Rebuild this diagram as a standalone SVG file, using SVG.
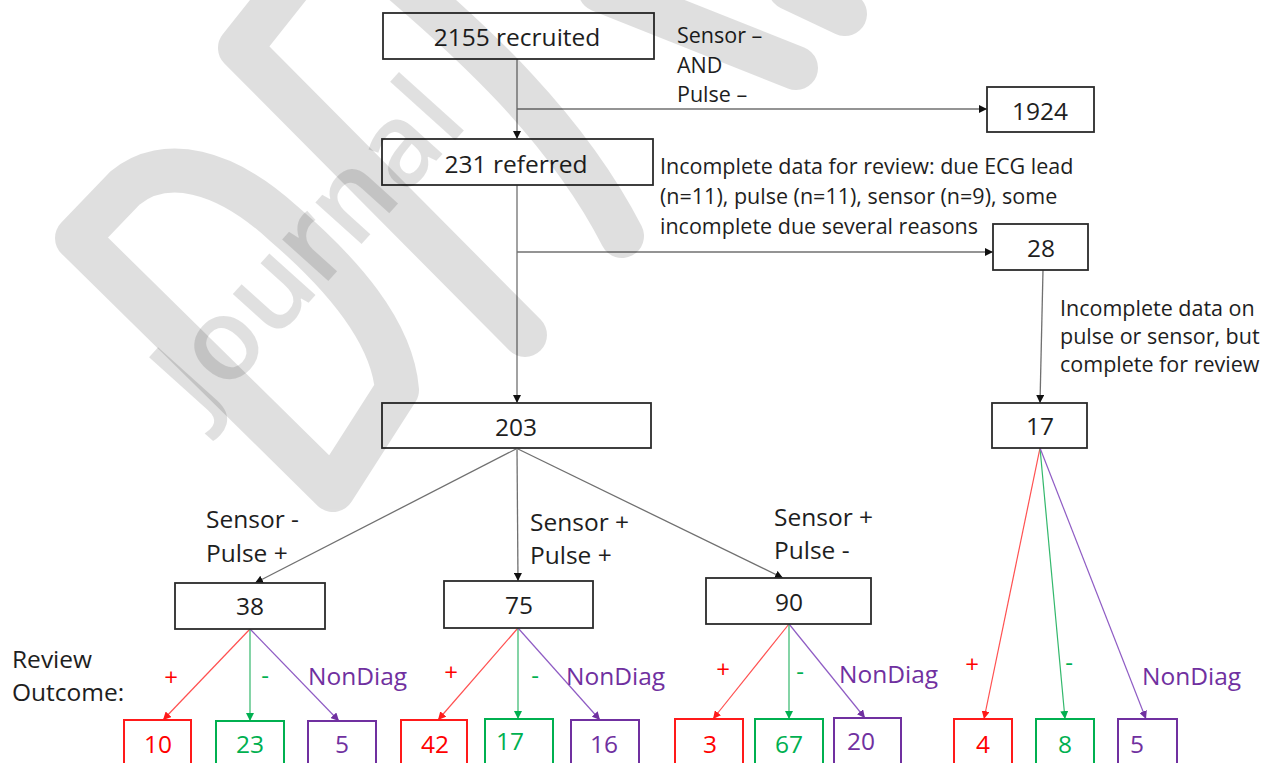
<svg xmlns="http://www.w3.org/2000/svg" width="1276" height="763" viewBox="0 0 1276 763">
<defs>
<style>
.box{fill:#fff;stroke:#2b2b2b;stroke-width:1.8}
.t{font-family:"Open Sans","Noto Sans","Liberation Sans",sans-serif;fill:#1e1e1e}
.bt{font-size:24.5px;text-anchor:middle}
.lb{font-size:21.5px}
.lg{font-size:24.5px}
.ln{fill:none;stroke:#707070;stroke-width:1.3}
.lr{fill:none;stroke:#ff5050;stroke-width:1.2}
.lgr{fill:none;stroke:#33b86c;stroke-width:1.2}
.lp{fill:none;stroke:#8f5cc4;stroke-width:1.2}
.br{fill:#fff;stroke:#ff1a1a;stroke-width:2}
.bg{fill:#fff;stroke:#00b050;stroke-width:2}
.bp{fill:#fff;stroke:#7030a0;stroke-width:2}
.red{fill:#ff0000}
.grn{fill:#00b050}
.pur{fill:#7030a0}
.sg{font-size:24px;text-anchor:middle}
</style>
<marker id="ah" viewBox="0 0 10 10" refX="10" refY="5" markerWidth="8" markerHeight="8" markerUnits="userSpaceOnUse" orient="auto"><path d="M0,0 L10,5 L0,10 z" fill="#111"/></marker>
<marker id="ahr" viewBox="0 0 10 10" refX="10" refY="5" markerWidth="8" markerHeight="8" markerUnits="userSpaceOnUse" orient="auto"><path d="M0,0 L10,5 L0,10 z" fill="#ff1a1a"/></marker>
<marker id="ahg" viewBox="0 0 10 10" refX="10" refY="5" markerWidth="8" markerHeight="8" markerUnits="userSpaceOnUse" orient="auto"><path d="M0,0 L10,5 L0,10 z" fill="#00b050"/></marker>
<marker id="ahp" viewBox="0 0 10 10" refX="10" refY="5" markerWidth="8" markerHeight="8" markerUnits="userSpaceOnUse" orient="auto"><path d="M0,0 L10,5 L0,10 z" fill="#7030a0"/></marker>
</defs>
<rect width="1276" height="763" fill="#fff"/>

<g id="connectors">
<path class="ln" d="M517,59 V139" marker-end="url(#ah)"/>
<path class="ln" d="M517,109 H987" marker-end="url(#ah)"/>
<path class="ln" d="M517,185 V403" marker-end="url(#ah)"/>
<path class="ln" d="M517,252 H993" marker-end="url(#ah)"/>
<path class="ln" d="M1043,270 L1040,403" marker-end="url(#ah)"/>
<path class="ln" d="M516,449 L255,583" marker-end="url(#ah)"/>
<path class="ln" d="M517,449 L518,581" marker-end="url(#ah)"/>
<path class="ln" d="M518,449 L783,578" marker-end="url(#ah)"/>
<path class="lr" d="M250,629 L163,720" marker-end="url(#ahr)"/>
<path class="lgr" d="M250,629 L250,721" marker-end="url(#ahg)"/>
<path class="lp" d="M250,629 L339,721" marker-end="url(#ahp)"/>
<path class="lr" d="M518,628 L438,720" marker-end="url(#ahr)"/>
<path class="lgr" d="M518,628 L518,719" marker-end="url(#ahg)"/>
<path class="lp" d="M518,628 L600,720" marker-end="url(#ahp)"/>
<path class="lr" d="M789,624 L713,719" marker-end="url(#ahr)"/>
<path class="lgr" d="M789,624 L789,719" marker-end="url(#ahg)"/>
<path class="lp" d="M789,624 L865,718" marker-end="url(#ahp)"/>
<path class="lr" d="M1040,448 L984,719" marker-end="url(#ahr)"/>
<path class="lgr" d="M1040,448 L1065,719" marker-end="url(#ahg)"/>
<path class="lp" d="M1040,448 L1146,719" marker-end="url(#ahp)"/>
</g>

<g id="labels">
<text class="t lb" x="677" y="43">Sensor –</text>
<text class="t lb" x="677" y="73">AND</text>
<text class="t lb" x="677" y="102">Pulse –</text>
<text class="t lb" x="660" y="174">Incomplete data for review: due ECG lead</text>
<text class="t lb" x="660" y="204">(n=11), pulse (n=11), sensor (n=9), some</text>
<text class="t lb" x="660" y="234">incomplete due several reasons</text>
<text class="t lb" x="1060" y="316">Incomplete data on</text>
<text class="t lb" x="1060" y="344">pulse or sensor, but</text>
<text class="t lb" x="1060" y="372">complete for review</text>
<text class="t lg" x="206" y="528">Sensor -</text>
<text class="t lg" x="206" y="562">Pulse +</text>
<text class="t lg" x="530" y="531">Sensor +</text>
<text class="t lg" x="530" y="564">Pulse +</text>
<text class="t lg" x="774" y="526">Sensor +</text>
<text class="t lg" x="774" y="559">Pulse -</text>
<text class="t lg" x="12" y="668">Review</text>
<text class="t lg" x="12" y="701">Outcome:</text>
<text class="t sg red" x="171" y="686">+</text>
<text class="t sg grn" x="265" y="684">-</text>
<text class="t lg pur" x="308" y="685">NonDiag</text>
<text class="t sg red" x="451" y="681">+</text>
<text class="t sg grn" x="535" y="684">-</text>
<text class="t lg pur" x="566" y="685">NonDiag</text>
<text class="t sg red" x="723" y="678">+</text>
<text class="t sg grn" x="800" y="680">-</text>
<text class="t lg pur" x="839" y="683">NonDiag</text>
<text class="t sg red" x="972" y="673">+</text>
<text class="t sg grn" x="1069" y="671">-</text>
<text class="t lg pur" x="1142" y="685">NonDiag</text>
</g>

<g id="n2155"><rect class="box" x="383" y="13" width="271" height="46"/><text class="t bt" x="517" y="46">2155 recruited</text></g>
<g id="n231"><rect class="box" x="382" y="139" width="271" height="46"/><text class="t bt" x="516" y="173">231 referred</text></g>
<g id="n1924"><rect class="box" x="987" y="87" width="107" height="45"/><text class="t bt" x="1040" y="120">1924</text></g>
<g id="n28"><rect class="box" x="993" y="224" width="95" height="46"/><text class="t bt" x="1041" y="257">28</text></g>
<g id="n203"><rect class="box" x="382" y="403" width="269" height="45"/><text class="t bt" x="516" y="436">203</text></g>
<g id="n17"><rect class="box" x="992" y="403" width="95" height="45"/><text class="t bt" x="1040" y="435">17</text></g>
<g id="n38"><rect class="box" x="175" y="583" width="150" height="46"/><text class="t bt" x="250" y="615">38</text></g>
<g id="n75"><rect class="box" x="444" y="581" width="149" height="47"/><text class="t bt" x="519" y="614">75</text></g>
<g id="n90"><rect class="box" x="706" y="578" width="165" height="46"/><text class="t bt" x="789" y="611">90</text></g>

<g id="o10"><rect class="br" x="124" y="720" width="67" height="60"/><text class="t bt red" x="158" y="753">10</text></g>
<g id="o23"><rect class="bg" x="216" y="721" width="68" height="60"/><text class="t bt grn" x="250" y="753">23</text></g>
<g id="o5a"><rect class="bp" x="308" y="721" width="68" height="60"/><text class="t bt pur" x="342" y="753">5</text></g>
<g id="o42"><rect class="br" x="401" y="720" width="66" height="60"/><text class="t bt red" x="435" y="753">42</text></g>
<g id="o17"><rect class="bg" x="485" y="719" width="68" height="60"/><text class="t bt grn" x="510" y="750">17</text></g>
<g id="o16"><rect class="bp" x="571" y="720" width="68" height="60"/><text class="t bt pur" x="604" y="753">16</text></g>
<g id="o3"><rect class="br" x="675" y="719" width="68" height="60"/><text class="t bt red" x="710" y="753">3</text></g>
<g id="o67"><rect class="bg" x="755" y="719" width="68" height="60"/><text class="t bt grn" x="789" y="753">67</text></g>
<g id="o20"><rect class="bp" x="834" y="718" width="67" height="60"/><text class="t bt pur" x="861" y="750">20</text></g>
<g id="o4"><rect class="br" x="954" y="719" width="58" height="60"/><text class="t bt red" x="983" y="753">4</text></g>
<g id="o8"><rect class="bg" x="1036" y="719" width="58" height="60"/><text class="t bt grn" x="1065" y="753">8</text></g>
<g id="o5b"><rect class="bp" x="1118" y="719" width="59" height="60"/><text class="t bt pur" x="1137" y="753">5</text></g>

<g id="watermark">
<g opacity="0.12" fill="none" stroke="#000" stroke-width="44" stroke-linecap="round" stroke-linejoin="round">
<path d="M333,490 L77,238 L125,188 C165,155 225,170 283,223 C340,272 392,330 397,390 Z"/>
<path d="M290,-15 L240,48 L525,335"/>
<path d="M400,-20 C470,40 565,125 622,236"/>
<path d="M600,-10 L796,68"/>
<path d="M790,-12 L845,14"/>
</g>
<text x="203" y="420" transform="rotate(-48 203 420)" font-family="Open Sans, Noto Sans, sans-serif" font-weight="600" font-size="115" fill="#000" fill-opacity="0.12">Journal</text>
</g>
</svg>
